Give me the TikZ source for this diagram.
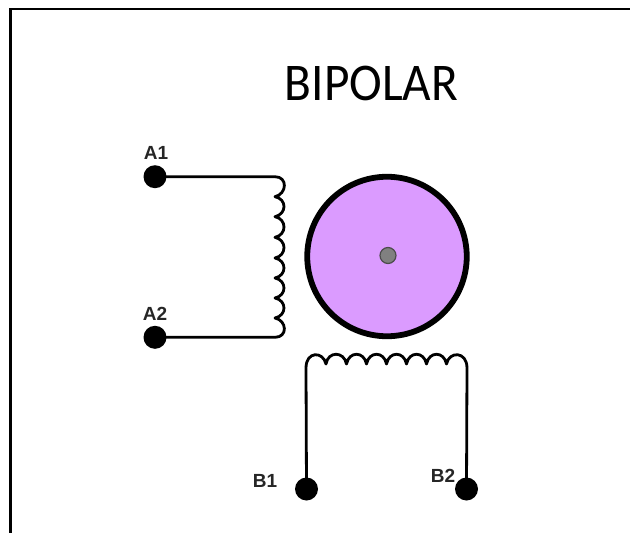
\documentclass[tikz,border=0pt]{standalone}
\usepackage{fontspec}
\usepackage{graphicx}
\setmainfont{Liberation Sans}
\newfontfamily\titlefont{Carlito}
\definecolor{rotorpink}{HTML}{DB9BFF}
\definecolor{hubgray}{HTML}{808080}
\tikzset{
  terminal/.style={circle,fill=black,inner sep=0pt,minimum size=23pt},
  wire/.style={line width=2.8pt,black,line join=round,line cap=round},
  pinlabel/.style={font=\fontsize{19pt}{21pt}\selectfont\bfseries,text=black!85,inner sep=0pt},
}
\begin{document}
\begin{tikzpicture}[x=1pt,y=-1pt]
\useasboundingbox (0,0) rectangle (630,533);
\fill[white] (0,0) rectangle (630,533);
% frame
\draw[line width=2.6pt] (10.5,533) -- (10.5,9) -- (630,9);
% title
\node[inner sep=0pt] (title) at (371.5,83) {\titlefont\scalebox{.93}[1]{\fontsize{53pt}{56pt}\selectfont BIPOLAR}};
% rotor
\node[circle,draw=black,line width=5.8pt,fill=rotorpink,inner sep=0pt,minimum size=159.5pt] (rotor) at (387,256.5) {};
\node[circle,draw=black!70,line width=1.2pt,fill=hubgray,inner sep=0pt,minimum size=16pt] (hub) at (388,255.5) {};
% terminals
\node[terminal] (a1) at (155,176.7) {};
\node[terminal] (a2) at (155,337.3) {};
\node[terminal] (b1) at (306.5,489) {};
\node[terminal] (b2) at (466.5,489) {};
% coil A
\draw[wire] (a1.center) -- (275,176.7)
  .. controls (288,176.7) and (287,194) .. (275,196.7)
  .. controls (287,199) and (287,214) .. (275,216.7)
  .. controls (287,219) and (287,235) .. (275,237.3)
  .. controls (287,240) and (287,255.5) .. (275,258)
  .. controls (287,260.5) and (287,275.5) .. (275,278)
  .. controls (287,280.5) and (287,295.5) .. (275,298)
  .. controls (287,300.5) and (287,315.5) .. (275,318)
  .. controls (287,320.5) and (288,337.3) .. (275,337.3)
  -- (a2.center);
% coil B
\draw[wire] (b1.center) -- (306,368)
  .. controls (306,351) and (323,351) .. (326,364)
  .. controls (328,351) and (344,351) .. (346.5,364)
  .. controls (349,351) and (364,351) .. (366.5,364)
  .. controls (369,351) and (384,351) .. (386.5,364)
  .. controls (389,351) and (404,351) .. (406.5,364)
  .. controls (409,351) and (424,351) .. (426.5,364)
  .. controls (429,351) and (444,351) .. (446.5,364)
  .. controls (449,351) and (467,351) .. (467,368)
  -- (b2.center);
% labels
\node[pinlabel] (la1) at (156,152.5) {A1};
\node[pinlabel] (la2) at (155,313.5) {A2};
\node[pinlabel] (lb1) at (265,481) {B1};
\node[pinlabel] (lb2) at (443,476) {B2};
\end{tikzpicture}
\end{document}
